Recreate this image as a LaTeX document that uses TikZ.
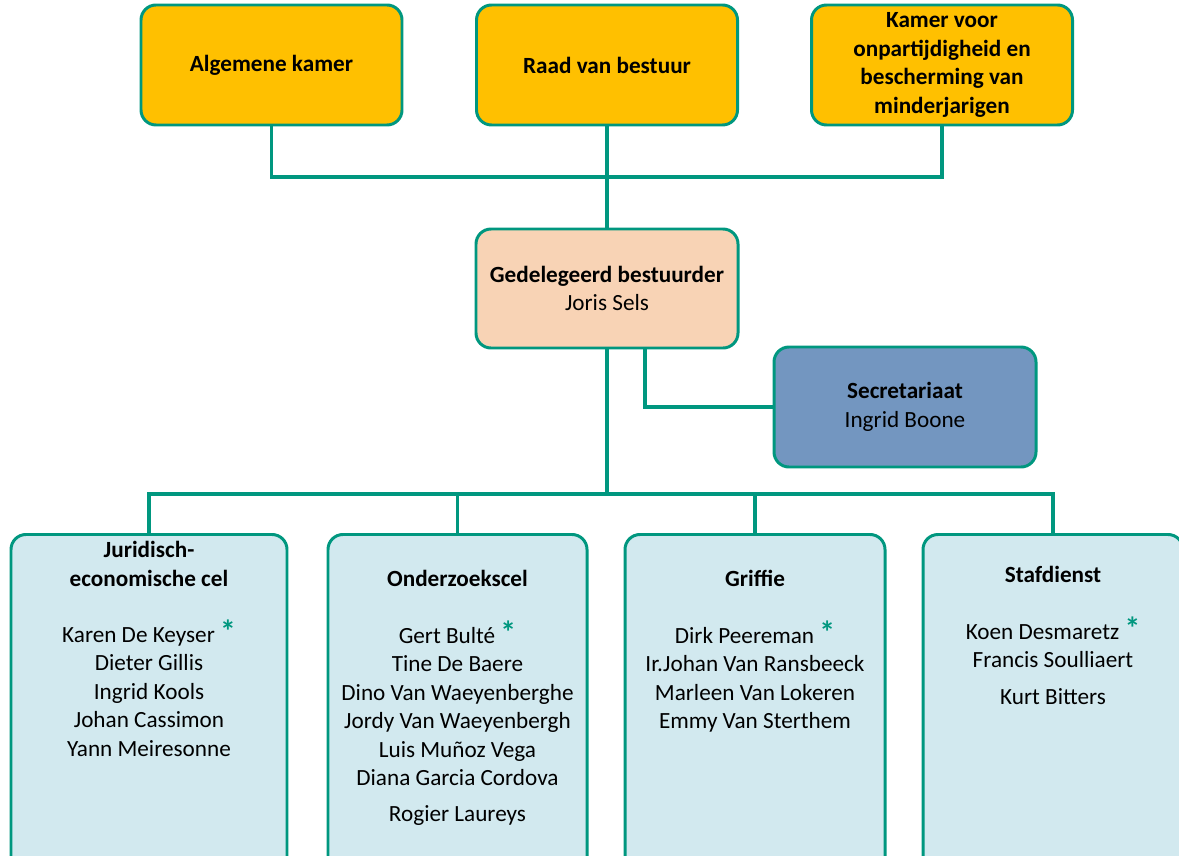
\documentclass[tikz,border=0pt]{standalone}
\usepackage{fontspec}
\setmainfont{Carlito}
\usepackage{tikz}

\definecolor{lijn}{HTML}{00977F}
\definecolor{goud}{HTML}{FFC000}
\definecolor{perzik}{HTML}{F8D3B5}
\definecolor{grijsblauw}{HTML}{7396C0}
\definecolor{lichtblauw}{HTML}{D2E9EF}

\newcommand{\ster}{\smash{\color{lijn}\fontsize{18}{16}\selectfont\textbf{*}}}

\begin{document}
\begin{tikzpicture}[
	font=\fontsize{13.2}{16.2}\selectfont,
	box/.style={shape=rectangle, rounded corners=0.3cm, draw=lijn, line width=1.7pt, align=center, inner sep=2pt},
	kamer/.style={box, fill=goud, minimum width=5.22cm, minimum height=2.4cm, font=\fontsize{13.2}{16.2}\selectfont\bfseries},
	cel/.style={box, fill=lichtblauw, anchor=north, minimum height=7cm},
	kop/.style={align=center, inner sep=0pt, font=\fontsize{13.2}{16.2}\selectfont\bfseries},
	namen/.style={align=center, inner sep=0pt, anchor=north},
	link/.style={draw=lijn, line width=1.8pt}]
	
	\useasboundingbox (0,0) rectangle (23.58,-17.12);
	\clip (0,0) rectangle (23.58,-17.12);
	
	\node[kamer] (alg)  at (5.43, -1.30) {Algemene kamer};
	\node[kamer] (raad) at (12.14, -1.30) {Raad van bestuur};
	\node[kamer] (kam)  at (18.84, -1.30) {Kamer voor\\onpartijdigheid en\\bescherming van\\minderjarigen};
	
	\node[box, fill=perzik, minimum width=5.24cm, minimum height=2.38cm] (ged) at (12.14, -5.77) {\textbf{Gedelegeerd bestuurder}\\Joris Sels};
	\node[box, fill=grijsblauw, minimum width=5.24cm, minimum height=2.4cm] (sec) at (18.10, -8.14) {\textbf{Secretariaat}\\Ingrid Boone};
	
	\node[cel, minimum width=5.52cm] (jur)  at (2.98, -10.66) {};
	\node[cel, minimum width=5.18cm] (ond)  at (9.15, -10.66) {};
	\node[cel, minimum width=5.20cm] (grif) at (15.10, -10.66) {};
	\node[cel, minimum width=5.20cm] (staf) at (21.06, -10.66) {};
	
	% koppen en namen
	\node[kop] (jurkop)  at (2.98, -11.28) {Juridisch-\\economische cel};
	\node[kop] (ondkop)  at (9.15, -11.57) {Onderzoekscel};
	\node[kop] (grifkop) at (15.10, -11.56) {Griffie};
	\node[kop] (stafkop) at (21.06, -11.48) {Stafdienst};
	
	\node[namen] (jurnm)  at (2.98, -12.54) {Karen De Keyser \ster\\Dieter Gillis\\Ingrid Kools\\Johan Cassimon\\Yann Meiresonne};
	\node[namen] (ondnm)  at (9.15, -12.54) {Gert Bulté \ster\\Tine De Baere\\Dino Van Waeyenberghe\\Jordy Van Waeyenbergh\\Luis Muñoz Vega\\Diana Garcia Cordova\\[4pt]Rogier Laureys};
	\node[namen] (grifnm) at (15.10, -12.54) {Dirk Peereman \ster\\Ir.Johan Van Ransbeeck\\Marleen Van Lokeren\\Emmy Van Sterthem};
	\node[namen] (stafnm) at (21.06, -12.48) {Koen Desmaretz \ster\\Francis Soulliaert\\[5pt]Kurt Bitters};
	
	\coordinate (boven) at (12.14, -3.54);
	\coordinate (balk) at (12.14, -9.88);
	
	\path[link] (alg.south) |- (boven) -| (kam.south);
	\path[link] (raad.south) -- (ged.north);
	\path[link] ([xshift=0.76cm]ged.south) |- (sec.west);
	\path[link] (ged.south) -- (balk);
	\path[link] (jur.north) |- (balk) -| (staf.north);
	\path[link] (ond.north) |- (balk);
	\path[link] (grif.north) |- (balk);

\end{tikzpicture}
\end{document}
